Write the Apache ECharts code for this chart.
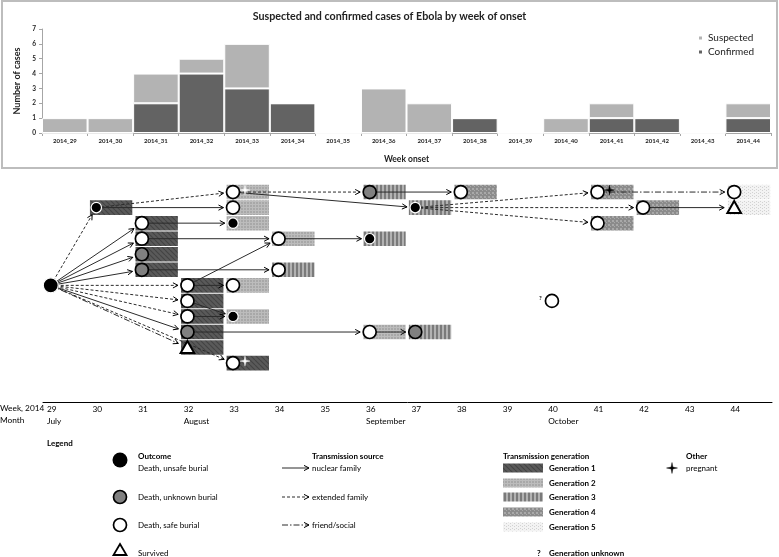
<!DOCTYPE html>
<html><head><meta charset="utf-8">
<script src="https://cdn.jsdelivr.net/npm/echarts@6/dist/echarts.min.js"></script>
<style>html,body{margin:0;padding:0;background:#fff}#c{width:779px;height:557px}</style>
</head><body><div id="c"></div>
<script>
// ---------- DATA ----------
const weekCategories = ['2014_29','2014_30','2014_31','2014_32','2014_33','2014_34','2014_35','2014_36','2014_37','2014_38','2014_39','2014_40','2014_41','2014_42','2014_43','2014_44'];
const confirmedCases = [0,0,2,4,3,2,0,0,0,1,0,0,1,1,0,1];
const suspectedCases = [1,1,2,1,3,0,0,3,2,0,0,1,1,0,0,1];

const weekTicks = [29,30,31,32,33,34,35,36,37,38,39,40,41,42,43,44];
const monthWeeks = [29,32,36,40];
const monthNames = ['July','August','September','October'];

// transmission tree nodes (week of onset, row, outcome, generation; 0 = index/no bar, -1 = unknown)
const nodeWeek    = [29,30,31,31,31,31,32,32,32,32,32,33,33,33,33,33,33,34,34,36,36,36,37,37,38,41,41,42,44,44,40];
const nodeRow     = [6,1,2,3,4,5,6,7,8,9,10,0,1,2,6,8,11,3,5,0,3,9,1,9,0,0,2,1,0,1,7];
const nodeOutcome = ['unsafe','unsafe','safe','safe','unknown','unknown','safe','safe','safe','unknown','survived',
                     'safe','safe','unsafe','safe','unsafe','safe','safe','safe','unknown','unsafe','safe','unsafe','unknown',
                     'safe','safe','safe','safe','safe','survived','safe'];
const nodeGeneration = [0,1,1,1,1,1,1,1,1,1,1,2,2,2,2,2,1,2,3,3,3,2,3,3,4,4,4,4,5,5,-1];
const pregnantNodes = [11,16,25];

// transmission links
const edgeFrom = [0,0,0,0,0,0,0,0,0,0,0, 1,1,2,3,17,6,5,6,7,8,9,21,11,11,19,22,22,22,25,27];
const edgeTo   = [1,2,3,4,5,6,7,8,9,10,16, 11,12,13,17,20,17,18,14,15,15,21,23,22,19,24,25,27,26,28,29];
const edgeType = ['extended','nuclear','nuclear','nuclear','nuclear','extended','extended','extended','nuclear','friend','extended',
                  'extended','nuclear','nuclear','nuclear','nuclear','nuclear','nuclear','nuclear','nuclear','nuclear','nuclear','nuclear','nuclear','extended','nuclear',
                  'extended','extended','extended','friend','nuclear'];

// ---------- STYLE ----------
const FONT = 'Lato';
const DASH = {nuclear: null, extended: [3,2], friend: [6,2,1.5,2]};
function makePattern(g){
  const c = document.createElement('canvas');
  let ctx;
  if(g===1){
    c.width=5;c.height=5;ctx=c.getContext('2d');
    ctx.fillStyle='#5a5a5a';ctx.fillRect(0,0,5,5);
    ctx.strokeStyle='#444';ctx.lineWidth=1.1;ctx.beginPath();
    for(let k=-1;k<=1;k++){ctx.moveTo(k*5,0);ctx.lineTo(k*5+5,5);}
    ctx.stroke();
  } else if(g===2){
    c.width=3;c.height=3;ctx=c.getContext('2d');
    ctx.fillStyle='#a8a8a8';ctx.fillRect(0,0,3,3);
    ctx.fillStyle='#bcbcbc';ctx.fillRect(0,0,3,1);ctx.fillRect(0,0,1,3);
  } else if(g===3){
    c.width=4;c.height=2;ctx=c.getContext('2d');
    ctx.fillStyle='#b2b2b2';ctx.fillRect(0,0,4,2);
    ctx.fillStyle='#7a7a7a';ctx.fillRect(0,0,2,2);
  } else if(g===4){
    c.width=4;c.height=4;ctx=c.getContext('2d');
    ctx.fillStyle='#8b8b8b';ctx.fillRect(0,0,4,4);
    ctx.fillStyle='#a9a9a9';ctx.fillRect(0,0,2,2);ctx.fillRect(2,2,1,1);
  } else {
    c.width=4;c.height=3;ctx=c.getContext('2d');
    ctx.fillStyle='#f3f3f3';ctx.fillRect(0,0,4,3);
    ctx.fillStyle='#d2d2d2';ctx.fillRect(0,0,1,1);ctx.fillRect(2,1,1,1);
  }
  return {image:c, repeat:'repeat'};
}
const patterns = [null,1,2,3,4,5].map(g => g ? makePattern(g) : null);

const NODE_DX = 0.17; // fraction of a week from week start to node centre
function nodeRadius(outcome, isIndex){
  if(isIndex) return 7.5;
  if(outcome==='unsafe') return 5.2;
  return 6.5;
}
function circleStyle(outcome){
  if(outcome==='unsafe') return {fill:'#000', stroke:'#fff', lineWidth:1.2};
  if(outcome==='unknown') return {fill:'#808080', stroke:'#000', lineWidth:1.7};
  return {fill:'#fff', stroke:'#000', lineWidth:1.7};
}
function crossShape(cx, cy, s, color){
  const a = 0.9;
  return {type:'polygon', shape:{points:[[cx,cy-s],[cx+a,cy-a],[cx+s,cy],[cx+a,cy+a],[cx,cy+s],[cx-a,cy+a],[cx-s,cy],[cx-a,cy-a]]},
          style:{fill:color, stroke:color, lineWidth:0.4}};
}
function arrowParts(x1,y1,x2,y2,type,width){
  const dx=x2-x1, dy=y2-y1, L=Math.hypot(dx,dy), ux=dx/L, uy=dy/L;
  const hl=5, hw=2.6;
  const bx=x2-ux*hl, by=y2-uy*hl;
  return [
    {type:'line', shape:{x1,y1,x2,y2}, style:{stroke:'#2b2b2b', lineWidth:width||1, lineDash:DASH[type]}},
    {type:'polyline', shape:{points:[[bx-uy*hw,by+ux*hw],[x2,y2],[bx+uy*hw,by-ux*hw]]}, style:{stroke:'#000', fill:null, lineWidth:1}}
  ];
}

// ---------- SERIES DATA ----------
const barData = [];
nodeWeek.forEach((w,i)=>{ if(nodeGeneration[i]>0) barData.push([w, nodeRow[i], nodeGeneration[i]]); });
const nodeData = nodeWeek.map((w,i)=>[w, nodeRow[i], i]);
const linkData = edgeFrom.map((f,k)=>[nodeWeek[f], nodeRow[f], nodeWeek[edgeTo[k]], nodeRow[edgeTo[k]], k]);

// ---------- LEGEND GRAPHICS ----------
function txt(t,x,y,bold,size,align){
  return {type:'text', x, y, z:10, style:{text:t, font:(bold?'bold ':'')+(size||8)+'px '+FONT, fill:'#000', verticalAlign:'middle', align:align||'left'}};
}
const g = [];
g.push({type:'rect', shape:{x:2,y:1,width:775,height:167}, style:{fill:'none', stroke:'#bdbdbd', lineWidth:2}, z:0});
g.push(txt('Week, 2014',0,408,false,8.3));
g.push(txt('Month',0,420,false,8.3));
g.push(txt('Legend',47,443,true,8));
g.push(txt('Outcome',138,456,true));
g.push({type:'circle', shape:{cx:120,cy:460,r:7.5}, style:{fill:'#000'}});
g.push(txt('Death, unsafe burial',138,468));
g.push({type:'circle', shape:{cx:120,cy:497,r:6.5}, style:{fill:'#808080', stroke:'#000', lineWidth:1.7}});
g.push(txt('Death, unknown burial',138,497));
g.push({type:'circle', shape:{cx:120,cy:525,r:6.5}, style:{fill:'#fff', stroke:'#000', lineWidth:1.7}});
g.push(txt('Death, safe burial',138,525));
g.push({type:'polygon', shape:{points:[[120,544],[126.5,555],[113.5,555]]}, style:{fill:'#fff', stroke:'#000', lineWidth:1.8}});
g.push(txt('Survived',138,553));
g.push(txt('Transmission source',312,456,true));
[['nuclear',468,'nuclear family'],['extended',497,'extended family'],['friend',525,'friend/social']].forEach(([t,y,l])=>{
  arrowParts(282,y,309,y,t).forEach(p=>{p.z=10;g.push(p);});
  g.push(txt(l,312,y));
});
g.push(txt('Transmission generation',503,456,true));
[1,2,3,4,5].forEach((k,i)=>{
  const y=[468,483,497,512,527][i];
  g.push({type:'rect', shape:{x:503,y:y-4.5,width:40,height:9}, style:{fill:patterns[k]}});
  g.push(txt('Generation '+k,549,y,true));
});
g.push(txt('?',537,553,true));
g.push(txt('Generation unknown',549,553,true));
g.push(txt('Other',686,456,true));
g.push(crossShape(672,468,5.5,'#000'));
g.push(txt('pregnant',686,468));

// ---------- OPTION ----------
const option = {
  animation:false,
  textStyle:{fontFamily:FONT},
  title:{text:'Suspected and confirmed cases of Ebola by week of onset', left:'center', top:6,
         textStyle:{fontSize:10.7, fontWeight:'bold', color:'#222', fontFamily:FONT}},
  legend:{data:['Suspected','Confirmed'], orient:'vertical', left:692, top:28, itemWidth:5, itemHeight:5, itemGap:4, icon:'rect',
          textStyle:{fontSize:10, color:'#222', fontFamily:FONT}},
  grid:[
    {left:42, right:8, top:29, bottom:424},
    {left:43, right:7, top:176.5, bottom:155}
  ],
  xAxis:[
    {type:'category', gridIndex:0, data:weekCategories, name:'Week onset', nameLocation:'middle', nameGap:22,
     nameTextStyle:{fontSize:8.5, fontWeight:'bold', color:'#222'},
     axisLine:{lineStyle:{color:'#a6a6a6'}}, axisTick:{show:true, length:3, lineStyle:{color:'#a6a6a6'}},
     axisLabel:{fontSize:6, fontWeight:'bold', color:'#222', margin:5, interval:0}},
    {type:'value', gridIndex:1, min:29, max:45, interval:1,
     axisLine:{onZero:false, lineStyle:{color:'#000', width:1}}, axisTick:{show:false}, splitLine:{show:false},
     axisLabel:{showMaxLabel:false, align:'left', padding:[0,0,0,4], margin:1, fontSize:8.3, lineHeight:12, color:'#000',
       formatter:v=>{ if(weekTicks.indexOf(v)<0) return ''; const m=monthWeeks.indexOf(v); return m>=0? v+'\n'+monthNames[m] : String(v); }}}
  ],
  yAxis:[
    {type:'value', gridIndex:0, min:0, max:7, interval:1, name:'Number of cases', nameLocation:'middle', nameGap:17, nameRotate:90,
     nameTextStyle:{fontSize:9, fontWeight:'bold', color:'#222'},
     axisLine:{show:true, lineStyle:{color:'#a6a6a6'}}, axisTick:{show:true, length:3, lineStyle:{color:'#a6a6a6'}}, splitLine:{show:false},
     axisLabel:{fontSize:6.5, fontWeight:'bold', color:'#222', margin:6}},
    {type:'value', gridIndex:1, min:-1, max:13.5, inverse:true, show:false}
  ],
  series:[
    {name:'Confirmed', type:'bar', stack:'c', xAxisIndex:0, yAxisIndex:0, data:confirmedCases, barCategoryGap:'0%',
     itemStyle:{color:'#636363', borderColor:'#fff', borderWidth:1}},
    {name:'Suspected', type:'bar', stack:'c', xAxisIndex:0, yAxisIndex:0, data:suspectedCases, barCategoryGap:'0%',
     itemStyle:{color:'#b3b3b3', borderColor:'#fff', borderWidth:1}},
    {type:'custom', xAxisIndex:1, yAxisIndex:1, z:2, data:barData, encode:{x:0,y:1},
     renderItem:(p,api)=>{
       const pt=api.coord([api.value(0),api.value(1)]), u=api.size([1,1]);
       return {type:'rect', shape:{x:pt[0]+u[0]*0.03, y:pt[1]-u[1]/2+0.5, width:u[0]*0.93, height:u[1]-1},
               style:{fill:patterns[api.value(2)]}};
     }},
    {type:'custom', xAxisIndex:1, yAxisIndex:1, z:3, data:linkData, encode:{x:[0,2],y:[1,3]},
     renderItem:(p,api)=>{
       const k=api.value(4);
       const a=api.coord([api.value(0)+NODE_DX, api.value(1)]);
       const b=api.coord([api.value(2)+NODE_DX, api.value(3)]);
       const to=edgeTo[k];
       const gap = (nodeOutcome[to]==='survived'?7:nodeRadius(nodeOutcome[to],false)) + 3;
       const dx=b[0]-a[0], dy=b[1]-a[1], L=Math.hypot(dx,dy);
       const tx=b[0]-dx/L*gap, ty=b[1]-dy/L*gap;
       return {type:'group', children:arrowParts(a[0],a[1],tx,ty,edgeType[k])};
     }},
    {type:'custom', xAxisIndex:1, yAxisIndex:1, z:4, data:nodeData, encode:{x:0,y:1},
     renderItem:(p,api)=>{
       const i=api.value(2);
       const c=api.coord([api.value(0)+NODE_DX, api.value(1)]);
       const out=nodeOutcome[i], ch=[];
       if(out==='survived'){
         ch.push({type:'polygon', shape:{points:[[c[0],c[1]-6.5],[c[0]+6.8,c[1]+5.5],[c[0]-6.8,c[1]+5.5]]}, style:{fill:'#fff', stroke:'#000', lineWidth:2}});
       } else {
         ch.push({type:'circle', shape:{cx:c[0], cy:c[1], r:nodeRadius(out, i===0)}, style:circleStyle(out)});
       }
       if(pregnantNodes.indexOf(i)>=0){
         const col = nodeGeneration[i]>=3 ? '#000' : '#fff';
         ch.push(crossShape(c[0]+12, c[1]-2, 5, col));
       }
       if(nodeGeneration[i]<0){
         ch.push({type:'text', x:c[0]-13, y:c[1]-3, style:{text:'?', font:'bold 6px '+FONT, fill:'#000', verticalAlign:'middle'}});
       }
       return {type:'group', children:ch};
     }}
  ],
  graphic:g
};
const chart = echarts.init(document.getElementById('c'));
chart.setOption(option);
</script></body></html>
